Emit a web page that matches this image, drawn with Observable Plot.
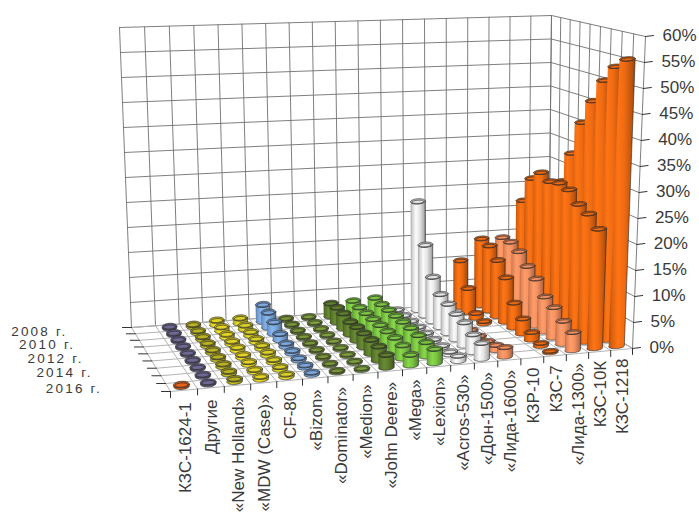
<!DOCTYPE html>
<html><head><meta charset="utf-8">
<style>html,body{margin:0;padding:0;background:#fff}svg{display:block}.yr text,.yr{letter-spacing:2.2px}</style>
<script src="https://cdn.jsdelivr.net/npm/d3@7"></script>
<script src="https://cdn.jsdelivr.net/npm/@observablehq/plot@0.6"></script>
</head><body><div id="chart"></div>
<script>
const categories = ["КЗС-1624-1","Другие","«New Holland»","«MDW (Case)»","CF-80","«Bizon»","«Dominator»","«Medion»","«John Deere»","«Mega»","«Lexion»","«Acros-530»","«Дон-1500»","«Лида-1600»","КЗР-10","КЗС-7","«Лида-1300»","КЗС-10К","КЗС-1218"];
const years = ["2008","2009","2010","2011","2012","2013","2014","2015","2016"];
const yearLabels = ["2008 г.","2010 г.","2012 г.","2014 г.","2016 г."];
const percentTicks = [0,5,10,15,20,25,30,35,40,45,50,55,60];
const colours = ["#e8641c","#6f6892","#b9b222","#e3d424","#d8cf28","#7ba7dd","#7a9638","#7f9f3c","#5f7f2e","#7cc644","#7cc644","#e6e6e6","#e6e6e6","#f59060","#ee6a12","#ee6a12","#f59060","#ee6a12","#ee6a12"];
const y2008 = [0,.3,.4,.9,1,3.4,.3,.3,2.7,2.9,3.2,.4,22.5,.3,9.7,14,14,21.5,17];
const y2009 = [0,.3,.4,.8,.8,3,.3,.3,3,2.7,3,.4,14.5,.3,5,13.5,14,27,21];
const y2010 = [0,.3,.5,.6,.7,2.3,.3,.3,3,2.7,3,.4,9,.3,1,11.5,13,29,27];
const y2011 = [0,.3,.5,.5,.6,1.2,.3,.3,2.5,2.7,3,.4,6.6,.3,.5,9,11,28,33.5];
const y2012 = [0,.3,.5,.6,.6,.6,.3,.3,2.7,2.7,3,.4,5.8,.3,0,5,9.5,28.5,40.5];
const y2013 = [0,.3,.5,.5,.6,.5,.3,.3,2.7,2.7,3,.4,5,.3,0,3,7,28,45.5];
const y2014 = [0,.3,.5,.5,.5,.4,.3,.3,2.7,2.7,2.8,.4,4.5,.5,0,1.5,6,26,50.2];
const y2015 = [0,.3,.5,.4,.5,.4,.3,.3,2.7,2.5,2.7,.5,3.4,1,0,.6,4.5,25,53.5];
const y2016 = [.3,.3,.5,.5,.5,.4,.3,.3,2.4,2,2.7,1,3,1.8,0,.3,3.5,23,55.5];
const series = [y2008,y2009,y2010,y2011,y2012,y2013,y2014,y2015,y2016];

// perspective of the chart box: floor and 60% plane
const floorQuad = [[131,327],[548,297],[632,348],[170,391]];
const topQuad = [[119,27],[551,15],[645,36],[155,54]];
function homography(q){
  const [[x0,y0],[x1,y1],[x2,y2],[x3,y3]] = q;
  const dx1=x1-x2,dx2=x3-x2,sx=x0-x1+x2-x3,dy1=y1-y2,dy2=y3-y2,sy=y0-y1+y2-y3;
  const den=dx1*dy2-dx2*dy1;
  const g=(sx*dy2-dx2*sy)/den,h=(dx1*sy-sx*dy1)/den;
  const a=x1-x0+g*x1,b=x3-x0+h*x3,d=y1-y0+g*y1,e=y3-y0+h*y3;
  return (u,v)=>{const w=g*u+h*v+1;return [(a*u+b*v+x0)/w,(d*u+e*v+y0)/w];};
}
const hFloor=homography(floorQuad), hTop=homography(topQuad);
function P(u0,v,val){
  const u=u0-.044*u0*(1-u0);
  const a=hFloor(u,v),b=hTop(u,v),t=val/60;
  return [a[0]+(b[0]-a[0])*t,a[1]+(b[1]-a[1])*t];
}
const nC=categories.length,nR=years.length;

// grid polylines
const wallLines=[],floorLines=[],tickLines=[];
let id=0;
const push=(arr,pts)=>{const k=id++;pts.forEach(p=>arr.push({x:p[0],y:p[1],k}));};
percentTicks.forEach(t=>{
  push(wallLines,[P(0,0,t),P(1,0,t),P(1,1,t)]);
  const a=P(1,1,t);
  push(tickLines,[a,[a[0]+8,a[1]-1]]);
});
d3.range(nC+1).forEach(c=>{
  const u=c/nC;
  push(wallLines,[P(u,0,0),P(u,0,60)]);
  push(floorLines,[P(u,0,0),P(u,1,0)]);
  const a=P(u,1,0);
  push(tickLines,[a,[a[0],a[1]+6]]);
});
d3.range(nR+1).forEach(r=>{
  const v=r/nR;
  push(wallLines,[P(1,v,0),P(1,v,60)]);
  push(floorLines,[P(0,v,0),P(1,v,0)]);
  const a=P(0,v,0);
  push(tickLines,[a,[a[0]-9,a[1]+0]]);
});
const floorPoly=floorQuad.map(p=>({x:p[0],y:p[1]}));

// cylinders, back row first
const shapes=[];
const tilt=-4*Math.PI/180;
function ell(cx,cy,rx,ry,a0,a1,n){
  return d3.range(n+1).map(i=>{
    const a=a0+(a1-a0)*i/n,ex=rx*Math.cos(a),ey=ry*Math.sin(a);
    return [cx+ex*Math.cos(tilt)-ey*Math.sin(tilt),cy+ex*Math.sin(tilt)+ey*Math.cos(tilt)];
  });
}
series.forEach((vals,r)=>{
  vals.forEach((val,c)=>{
    if(!val) return;
    const u=(c+.5)/nC,v=(r+.5)/nR;
    const b=P(u,v,0),t=P(u,v,val);
    const rx=7.3+.07*r,ry=3.3-.06*c;
    const body=[...ell(b[0],b[1],rx,ry,Math.PI,0,14),...ell(t[0],t[1],rx,ry,0,Math.PI,14)];
    const k1=id++;
    body.forEach(p=>shapes.push({x:p[0],y:p[1],k:k1,f:`url(#g${c})`}));
    const k2=id++;
    ell(t[0],t[1],rx,ry,0,2*Math.PI,28).forEach(p=>shapes.push({x:p[0],y:p[1],k:k2,f:d3.color(colours[c]).darker(.5).formatHex()}));
    const k3=id++;
    ell(t[0],t[1]+.5,rx*.8,ry*.62,0,2*Math.PI,20).forEach(p=>shapes.push({x:p[0],y:p[1],k:k3,f:colours[c]}));
  });
});

const catLabels=categories.map((name,c)=>{
  const p=P((c+.5)/nC,1,0);
  return {name,x:p[0]+1,y:p[1]+9+3*(1-c/(nC-1))};
});
const yearText=yearLabels.map((name,i)=>{
  const p=P(0,(i*2+.5)/nR,0);
  return {name,x:p[0]-66,y:p[1]+1};
});
const pctText=percentTicks.map(t=>{
  const p=P(1,1,t);
  return {name:t+"%",x:p[0]+17,y:p[1]-1};
});

function defs(){
  const d=d3.create("svg:defs");
  colours.forEach((col,i)=>{
    const g=d.append("linearGradient").attr("id","g"+i).attr("x1",0).attr("x2",1).attr("y1",0).attr("y2",0);
    const c=d3.color(col);
    [[0,c.darker(.9)],[.12,c.darker(.25)],[.35,c.brighter(.25)],[.6,c],[.88,c.darker(.7)],[1,c.darker(1.4)]]
      .forEach(([o,k])=>g.append("stop").attr("offset",o).attr("stop-color",k.formatHex()));
  });
  return d.node();
}

const font="'Liberation Sans',Arial,sans-serif";
const textOpts={text:"name",x:"x",y:"y",fontSize:17,fontFamily:font,fill:"#3a3a3a"};
const chart=Plot.plot({
  width:699,height:512,margin:0,
  x:{domain:[0,699],range:[0,699],axis:null},
  y:{domain:[0,512],range:[0,512],axis:null},
  color:{type:"identity"},
  style:{background:"#fff"},
  marks:[
    defs,
    Plot.line(floorPoly,{x:"x",y:"y",fill:"#fff",stroke:"none"}),
    Plot.line(wallLines,{x:"x",y:"y",z:"k",stroke:"#707070",strokeWidth:.9}),
    Plot.line(floorLines,{x:"x",y:"y",z:"k",stroke:"#b4b4b4",strokeWidth:1}),
    Plot.line(tickLines,{x:"x",y:"y",z:"k",stroke:"#333",strokeWidth:1}),
    Plot.line(shapes,{x:"x",y:"y",z:"k",fill:"f",stroke:"#262626",strokeWidth:.6,curve:"linear"}),
    Plot.text(catLabels,{...textOpts,rotate:-90,textAnchor:"end"}),
    Plot.text(yearText,{...textOpts,fontSize:13.5,textAnchor:"end",className:"yr"}),
    Plot.text(pctText,{...textOpts,textAnchor:"start"})
  ]
});
document.getElementById("chart").append(chart);
</script></body></html>
